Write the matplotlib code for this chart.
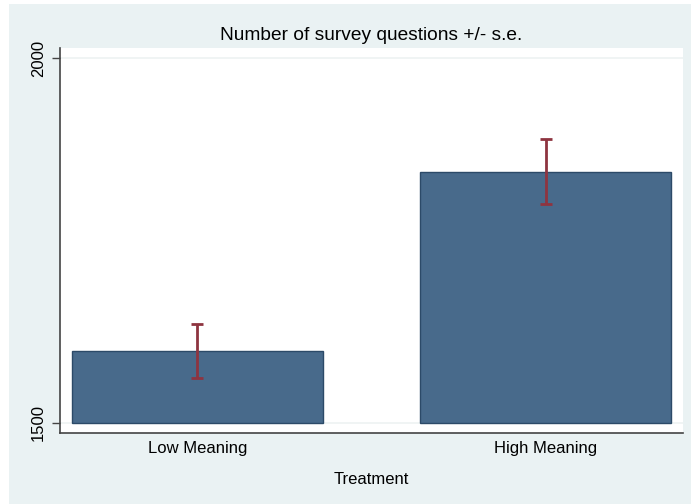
import matplotlib.pyplot as plt
from matplotlib.patches import Rectangle

# data
groups = ['Low Meaning', 'High Meaning']
means = [1598, 1844]
se = [37, 44.5]
yticks = [1500, 2000]

plt.rcParams['font.family'] = ['Liberation Sans', 'DejaVu Sans']

fig = plt.figure(figsize=(6.91, 5.04), dpi=100)
fig.patch.set_facecolor('white')
# stata style light blue-gray graph region
fig.patches.append(Rectangle((9 / 691, 0), 1, 1 - 4 / 504, transform=fig.transFigure,
                             facecolor='#EAF2F3', edgecolor='none', zorder=-1))

ax = fig.add_axes([60 / 691, 1 - 433 / 504, 623 / 691, 385 / 504])
ax.set_facecolor('white')

x = [1, 2]
base = yticks[0]
ax.bar(x, [m - base for m in means], bottom=base, width=0.721,
       color='#486A8B', edgecolor='#2C4A68', linewidth=1, zorder=2)
ax.errorbar(x, means, yerr=se, fmt='none', ecolor='#8E3440',
            elinewidth=2, capsize=4.5, capthick=2, zorder=3)

ax.set_xlim(0.605, 2.395)
ax.set_ylim(1486.3, 2013.7)
ax.set_xticks(x)
ax.set_xticklabels(groups, fontsize=12)
ax.set_yticks(yticks)
ax.set_yticklabels([str(t) for t in yticks], rotation=90, va='center', fontsize=12)
ax.tick_params(axis='x', length=0, pad=6)
ax.tick_params(axis='y', length=6, width=1, color='#444444', pad=4)
for t in yticks:
    ax.axhline(t, color='#EEF2F2', linewidth=1.2, zorder=1)

for s in ['top', 'right']:
    ax.spines[s].set_visible(False)
for s in ['left', 'bottom']:
    ax.spines[s].set_color('#444444')
    ax.spines[s].set_linewidth(1.2)

ax.set_xlabel('Treatment', fontsize=12, labelpad=11)
ax.set_title('Number of survey questions +/- s.e.', fontsize=13.8, pad=5.5)

fig.savefig('out.png', dpi=100)
